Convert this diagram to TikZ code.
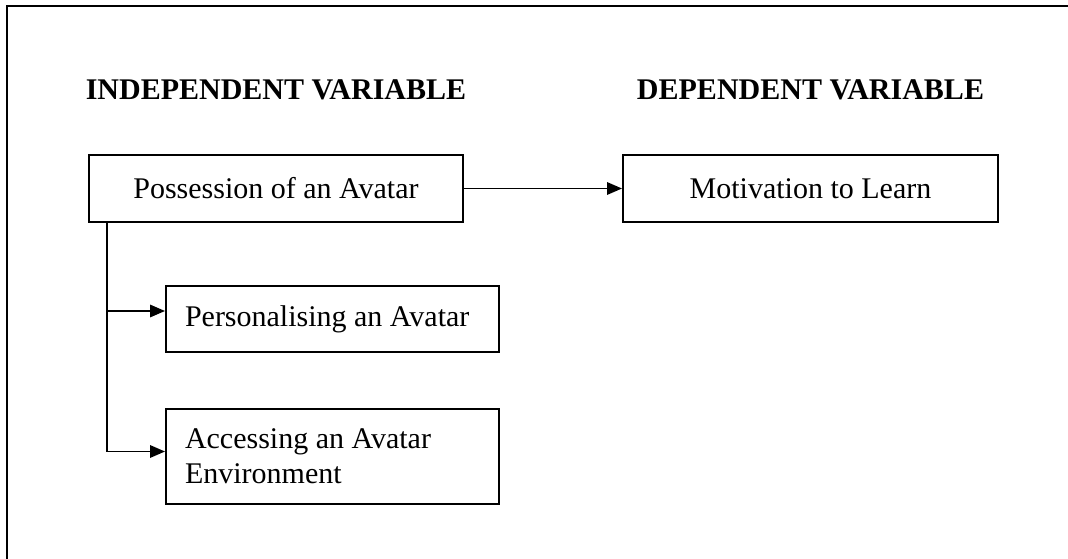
\documentclass[tikz,border=0pt]{standalone}
\usepackage{fontspec}
\setmainfont{Liberation Serif}
\usetikzlibrary{positioning,arrows.meta}

\begin{document}
\begin{tikzpicture}[x=0.4pt, y=-0.4pt, line width=0.8pt, on grid,
box/.style ={draw, rectangle, minimum height=26.8pt,
font=\fontsize{12}{14}\selectfont},
sub/.style ={box, anchor=north west, text width=118pt, align=flush left,
inner xsep=7.6pt, minimum height=26.4pt},
head/.style ={font=\fontsize{12}{14}\selectfont\bfseries},
arr/.style ={-{Triangle[length=6pt,width=5pt]}, line width=0.7pt}]
\useasboundingbox (0,0) rectangle (1068,559);
\draw (7,600) -- (7,6) -- (1100,6);

\node[box, minimum width=149.6pt] (Poss) at (276,188.5) {Possession of an Avatar};
\node[box, minimum width=150pt] (Motiv) [right=213.8pt of Poss] {Motivation to Learn};
\node[head] (Indep) [above=39.4pt of Poss] {INDEPENDENT VARIABLE};
\node[head] (Dep) [above=39.4pt of Motiv] {DEPENDENT VARIABLE};
\node[sub] (Pers) at (165,285) {Personalising an Avatar};
\node[sub, minimum height=38pt] (Acc) at (165,408) {Accessing an Avatar\\Environment};
\coordinate (Trunk) at ([xshift=7.6pt]Poss.south west);

\path[arr] (Poss) edge (Motiv);
\draw[arr] (Trunk) |- ([yshift=3.2pt]Pers.west);
\draw[arr] (Trunk) |- ([yshift=2pt]Acc.west);
\end{tikzpicture}
\end{document}
